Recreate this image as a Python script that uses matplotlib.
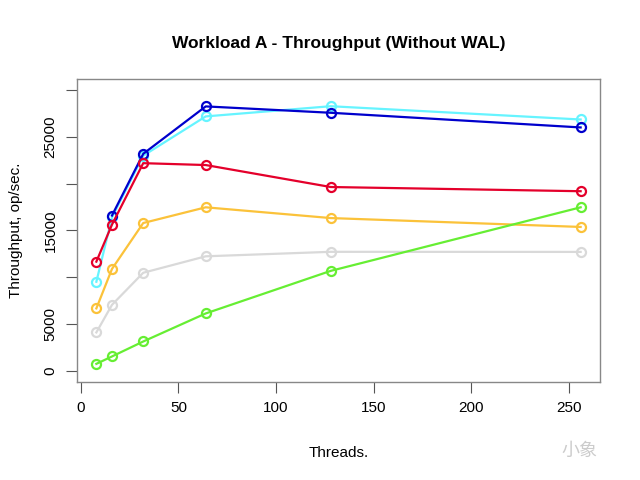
import matplotlib
matplotlib.use("Agg")
from matplotlib import pyplot as plt

# threads and throughput per series
threads = [8, 16, 32, 64, 128, 256]
blue_threads = [16, 32, 64, 128, 256]
grey_tp = [4100, 7050, 10480, 12240, 12720, 12710]
green_tp = [740, 1530, 3130, 6130, 10680, 17480]
orange_tp = [6670, 10890, 15800, 17480, 16330, 15380]
cyan_tp = [9520, 16400, 23000, 27200, 28290, 26870]
blue_tp = [16600, 23200, 28270, 27590, 26020]
red_tp = [11670, 15630, 22200, 22000, 19650, 19200]

yticks = [0, 5000, 10000, 15000, 20000, 25000, 30000]
ytick_labels = ["0", "5000", "", "15000", "", "25000", ""]
xticks = [0, 50, 100, 150, 200, 250]

plt.rcParams['font.family'] = ['Liberation Sans', 'DejaVu Sans']

fig = plt.figure(figsize=(6.4, 4.8), dpi=100)
ax = fig.add_axes([0.1203, 0.2042, 0.8172, 0.6312])

series = [
    (threads, grey_tp, "#d9d9d9"),
    (threads, orange_tp, "#fbc23a"),
    (threads, green_tp, "#66ee33"),
    (threads, cyan_tp, "#66f4ff"),
    (blue_threads, blue_tp, "#0000cc"),
    (threads, red_tp, "#e4002b"),
]
for xs, vals, col in series:
    ax.plot(xs, vals, color=col, lw=1.6, marker="o", ms=6.5,
            mfc="none", mec=col, mew=1.6)

ax.set_xlim(-1.92, 265.92)
ax.set_ylim(-1200, 31200)
ax.set_xticks(xticks)
ax.set_xticklabels([str(t) for t in xticks], fontsize=11)
ax.set_yticks(yticks)
ax.set_yticklabels(ytick_labels, fontsize=11, rotation=90, va="center")
ax.tick_params(direction="out", length=8, width=0.8, color="#555555", pad=6)

for sp in ax.spines.values():
    sp.set_color("#888888")
    sp.set_linewidth(1)

ax.set_title("Workload A - Throughput (Without WAL)", fontsize=12.5,
             fontweight="bold", pad=22)
ax.set_xlabel("Threads.", fontsize=11, labelpad=22)
ax.set_ylabel("Throughput, op/sec.", fontsize=11, labelpad=15)

fig.text(0.905, 0.06, "小象", fontsize=13, color="#cccccc",
         family=['Noto Sans CJK SC', 'DejaVu Sans'], ha="center", va="center")

fig.savefig("out.png", dpi=100)
